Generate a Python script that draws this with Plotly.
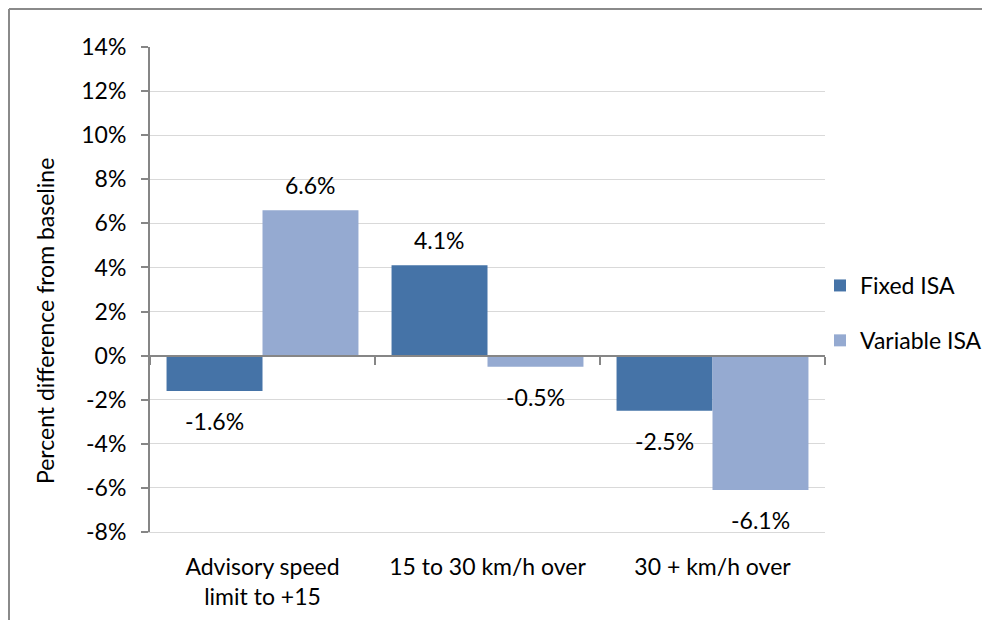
import plotly.graph_objects as go

categories = ["Advisory speed<br>limit to +15", "15 to 30 km/h over", "30 + km/h over"]
fixed_isa = [-1.6, 4.1, -2.5]
variable_isa = [6.6, -0.5, -6.1]
series_names = ["Fixed ISA", "Variable ISA"]
y_ticks = [-8, -6, -4, -2, 0, 2, 4, 6, 8, 10, 12, 14]
y_tick_labels = [f"{v}%" for v in y_ticks]

FONT = "Lato, Carlito, Calibri, sans-serif"
FS = 23
C_FIXED = "#4573A7"
C_VAR = "#95AAD1"

# page body has an 8px default margin; compensate so the plot sits where the reference has it
OFF = 8
PL, PR, PT, PB = 150, 825, 47, 532  # target plot-area pixel box in the 990x628 window
W, H = 990 - 2 * OFF, 628 - 2 * OFF   # fit inside the window without scrollbars
ml, mt = PL - OFF, PT - OFF
mr, mb = (W + OFF) - PR, (H + OFF) - PB
pw, ph = PR - PL, PB - PT

fig = go.Figure()
fig.add_trace(go.Bar(x=categories, y=fixed_isa, name=series_names[0], legendgroup="a",
                     marker=dict(color=C_FIXED, line=dict(width=0))))
fig.add_trace(go.Bar(x=categories, y=variable_isa, name=series_names[1], legendgroup="b",
                     marker=dict(color=C_VAR, line=dict(width=0))))
# invisible helper trace to activate the overlay axis that draws the zero-line ticks
fig.add_trace(go.Scatter(x=[-0.5, 2.5], y=[0, 0], xaxis="x2", mode="lines",
                         line=dict(width=0), opacity=0, showlegend=False, hoverinfo="skip"))

annotations = []
for vals, shift in ((fixed_isa, -48), (variable_isa, 48)):
    for c, v in zip(categories, vals):
        annotations.append(dict(
            x=c, y=v, xref="x", yref="y", xshift=shift,
            yshift=25 if v >= 0 else -30,
            text=f"{v:.1f}%", showarrow=False,
            font=dict(family=FONT, size=FS, color="#000000")))
annotations.append(dict(
    x=(45 - PL) / pw, y=(PB - 321) / ph, xref="paper", yref="paper", textangle=-90,
    xanchor="center", yanchor="middle",
    text="Percent difference from baseline", showarrow=False,
    font=dict(family=FONT, size=FS, color="#000000")))

bx = (9 - PL) / pw
by = 1 + (PT - 9) / ph
border = dict(color="#8a8a8a", width=2)

fig.update_layout(
    width=W, height=H,
    margin=dict(l=ml, r=mr, t=mt, b=mb, pad=0, autoexpand=False),
    paper_bgcolor="white", plot_bgcolor="white",
    barmode="group", bargap=0.147, bargroupgap=0,
    font=dict(family=FONT, size=FS, color="#000000"),
    xaxis=dict(type="category", showline=True, linecolor="#d9d9d9", linewidth=1,
               ticks="", showgrid=False, tickfont=dict(size=FS),
               ticklabelstandoff=14, range=[-0.5, 2.5]),
    xaxis2=dict(overlaying="x", anchor="free", position=8 / 22, range=[-0.5, 2.5],
                tickvals=[-0.5, 0.5, 1.5, 2.5], ticks="outside", ticklen=8,
                tickcolor="#868686", tickwidth=2, showticklabels=False,
                showline=True, linecolor="#868686", linewidth=2, showgrid=False,
                zeroline=False),
    yaxis=dict(range=[-8, 14], tickvals=y_ticks, ticktext=y_tick_labels,
               showgrid=True, gridcolor="#d9d9d9", gridwidth=1,
               zeroline=False, showline=True, linecolor="#868686", linewidth=2,
               ticks="outside", ticklen=7, tickcolor="#868686", tickwidth=2,
               ticklabelstandoff=10, tickfont=dict(size=FS)),
    legend=dict(x=(820 - PL) / pw, y=(PB - 313) / ph, xanchor="left", yanchor="middle",
                font=dict(family=FONT, size=FS), tracegroupgap=22, traceorder="grouped",
                itemsizing="constant", bgcolor="rgba(0,0,0,0)"),
    annotations=annotations,
    shapes=[
        dict(type="line", xref="paper", yref="paper", x0=bx, x1=bx, y0=-0.3, y1=by,
             line=border, layer="below"),
        dict(type="line", xref="paper", yref="paper", x0=bx, x1=1.3, y0=by, y1=by,
             line=border, layer="below"),
    ],
)

fig.write_html("out.html")
